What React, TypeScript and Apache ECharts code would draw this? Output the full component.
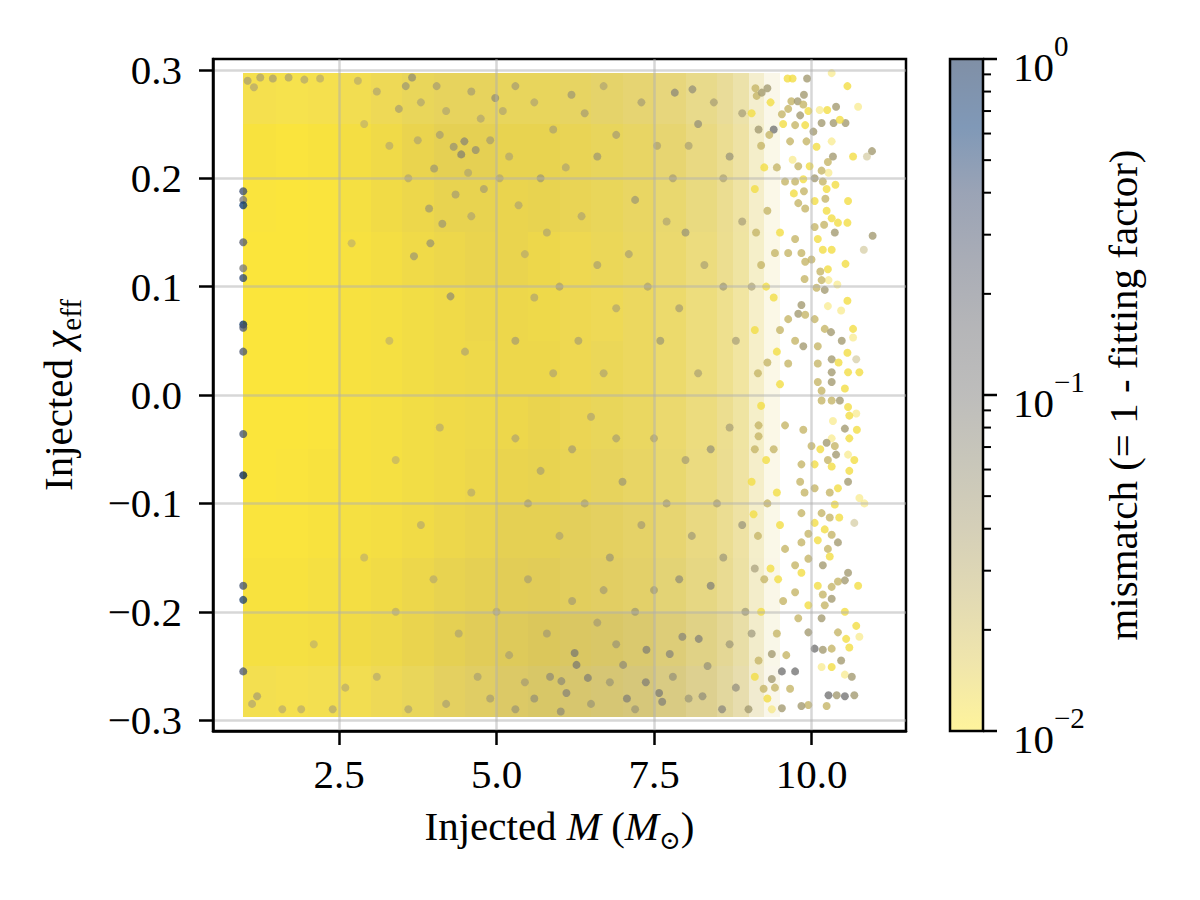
import React, { useEffect, useRef } from 'react';
import * as echarts from 'echarts';

// ---------- tick labels ----------
const xTicks = [2.5, 5.0, 7.5, 10.0];
const yTicks = [-0.3, -0.2, -0.1, 0.0, 0.1, 0.2, 0.3];
const cbarMajor = [0.01, 0.1, 1];
const cbarMinor = [0.02, 0.03, 0.04, 0.05, 0.06, 0.07, 0.08, 0.09, 0.2, 0.3, 0.4, 0.5, 0.6, 0.7, 0.8, 0.9];

// reversed cividis (low mismatch -> yellow, high -> navy)
const cmapStops = ['#FEE838', '#E1CC58', '#C5B568', '#ABA071', '#928E75', '#7C7B78', '#6B6C71', '#535A6D', '#36486C', '#00326F', '#00204D'];

// ---------- dense cloud, binned ----------
const cellXEdges = [0.98, 1.5, 2.0, 2.5, 3.0, 3.5, 4.0, 4.5, 5.0, 5.5, 6.0, 6.5, 7.0, 7.5, 8.0, 8.5, 8.75, 9.0, 9.25, 9.5];
const cellYEdges = [0.297, 0.25, 0.2, 0.15, 0.1, 0.05, 0.0, -0.05, -0.1, -0.15, -0.2, -0.25, -0.297]; // top -> bottom
const cellColumnFill = [1, 1, 1, 1, 1, 1, 1, 1, 1, 1, 0.97, 0.94, 0.9, 0.84, 0.75, 0.66, 0.55, 0.32, 0.14];
const cellRowFill = [0.94, 1, 1, 1, 1, 1, 1, 1, 1, 1, 1, 0.94];
// log10(mismatch), rows top -> bottom, columns left -> right
const cellLogMismatch = [
  [-1.93, -1.94, -1.93, -1.91, -1.88, -1.85, -1.83, -1.83, -1.84, -1.84, -1.83, -1.81, -1.8, -1.79, -1.78, -1.76, -1.76, -1.75, -1.75],
  [-1.96, -1.97, -1.96, -1.93, -1.9, -1.86, -1.83, -1.83, -1.85, -1.85, -1.85, -1.84, -1.83, -1.81, -1.8, -1.79, -1.79, -1.78, -1.78],
  [-1.97, -1.98, -1.97, -1.94, -1.91, -1.88, -1.85, -1.85, -1.86, -1.85, -1.85, -1.85, -1.84, -1.83, -1.81, -1.8, -1.8, -1.79, -1.79],
  [-1.98, -1.98, -1.97, -1.95, -1.93, -1.9, -1.88, -1.86, -1.86, -1.88, -1.88, -1.86, -1.85, -1.84, -1.83, -1.81, -1.81, -1.8, -1.8],
  [-1.98, -1.98, -1.97, -1.95, -1.94, -1.92, -1.9, -1.88, -1.88, -1.89, -1.88, -1.88, -1.86, -1.85, -1.84, -1.83, -1.83, -1.81, -1.81],
  [-1.98, -1.98, -1.97, -1.95, -1.94, -1.92, -1.9, -1.89, -1.88, -1.88, -1.88, -1.86, -1.86, -1.85, -1.84, -1.83, -1.83, -1.81, -1.81],
  [-1.98, -1.98, -1.97, -1.95, -1.94, -1.92, -1.9, -1.89, -1.88, -1.86, -1.86, -1.85, -1.85, -1.84, -1.83, -1.81, -1.81, -1.8, -1.8],
  [-1.98, -1.97, -1.96, -1.95, -1.94, -1.92, -1.9, -1.88, -1.86, -1.85, -1.85, -1.83, -1.83, -1.83, -1.82, -1.8, -1.8, -1.79, -1.79],
  [-1.97, -1.97, -1.96, -1.94, -1.93, -1.91, -1.88, -1.86, -1.83, -1.83, -1.81, -1.81, -1.81, -1.81, -1.8, -1.79, -1.79, -1.78, -1.78],
  [-1.96, -1.96, -1.94, -1.93, -1.91, -1.88, -1.85, -1.83, -1.81, -1.8, -1.8, -1.79, -1.79, -1.78, -1.78, -1.77, -1.77, -1.76, -1.76],
  [-1.94, -1.94, -1.93, -1.91, -1.89, -1.86, -1.83, -1.8, -1.78, -1.76, -1.74, -1.73, -1.72, -1.72, -1.72, -1.72, -1.72, -1.72, -1.72],
  [-1.92, -1.93, -1.92, -1.91, -1.88, -1.85, -1.81, -1.78, -1.75, -1.72, -1.7, -1.68, -1.67, -1.67, -1.67, -1.68, -1.68, -1.68, -1.68],
];

// ---------- individual points: [M, chi_eff, mismatch] ----------
const edgeColumnDots = [
  [0.98, 0.188, 0.4], [0.98, 0.18, 0.12], [0.98, 0.175, 0.6], [0.98, 0.141, 0.25], [0.98, 0.117, 0.12],
  [0.98, 0.108, 0.45], [0.98, 0.065, 0.8], [0.98, 0.062, 0.3], [0.98, 0.04, 0.3], [0.98, -0.036, 0.35],
  [0.98, -0.074, 1.0], [0.98, -0.176, 0.35], [0.98, -0.189, 0.5], [0.98, -0.255, 0.3],
];

const speckleDots = [
  [4.49, 0.234, 0.1], [4.44, 0.222, 0.12], [4.67, 0.226, 0.08], [4.32, 0.229, 0.07], [3.93, 0.172, 0.06],
  [4.14, 0.158, 0.06], [4.27, 0.091, 0.08], [3.66, 0.293, 0.08], [3.56, 0.285, 0.06], [4.98, 0.274, 0.08],
  [3.45, 0.264, 0.05], [4.01, 0.209, 0.06], [3.69, 0.128, 0.06], [3.95, 0.14, 0.07], [6.27, -0.249, 0.15],
  [6.45, -0.261, 0.12], [7.58, -0.275, 0.15], [7.63, -0.283, 0.12], [8.4, -0.176, 0.12], [8.58, -0.29, 0.1],
  [8.27, -0.278, 0.08], [6.02, -0.292, 0.08], [6.11, -0.275, 0.1], [7.37, -0.265, 0.12], [7.95, -0.223, 0.1],
  [8.21, -0.225, 0.12], [6.24, -0.238, 0.15], [7.38, -0.235, 0.12], [7.07, -0.28, 0.12], [7.01, -0.249, 0.08],
  [7.75, -0.239, 0.1], [6.03, -0.264, 0.08], [8.11, 0.282, 0.08], [7.83, 0.279, 0.1], [6.19, 0.277, 0.06],
  [1.05, 0.29, 0.05], [1.25, 0.293, 0.045], [1.45, 0.292, 0.05], [1.7, 0.293, 0.045], [1.95, 0.291, 0.04],
  [2.2, 0.292, 0.035], [1.15, 0.284, 0.04], [1.2, -0.278, 0.05], [1.12, -0.285, 0.04], [1.6, -0.29, 0.035],
  [5.6, -0.28, 0.07], [5.3, -0.29, 0.06], [5.85, -0.26, 0.08], [5.5, -0.1, 0.05], [6.2, -0.05, 0.05],
  [6.8, -0.15, 0.06], [6.0, 0.1, 0.05], [5.3, 0.05, 0.05], [7.2, 0.18, 0.06], [6.6, 0.22, 0.06],
  [5.7, 0.2, 0.06], [7.0, -0.08, 0.06], [7.6, 0.05, 0.06], [8.0, 0.15, 0.07], [8.4, -0.05, 0.07],
  [8.7, 0.22, 0.07], [8.9, -0.12, 0.07], [8.2, 0.25, 0.08], [7.9, -0.17, 0.08], [8.6, 0.1, 0.06],
  [3.8, 0.27, 0.04], [4.05, 0.285, 0.05], [4.2, 0.262, 0.04], [4.6, 0.28, 0.05], [4.75, 0.255, 0.04],
  [5.1, 0.262, 0.04], [5.3, 0.285, 0.05], [4.9, 0.235, 0.05], [5.2, 0.22, 0.04], [3.75, 0.235, 0.04],
  [4.1, 0.24, 0.05], [4.55, 0.205, 0.04], [4.8, 0.19, 0.05], [5.05, 0.2, 0.04], [4.35, 0.185, 0.05],
  [3.6, 0.2, 0.04], [4.6, 0.165, 0.04], [5.35, 0.175, 0.04], [3.3, 0.23, 0.035], [3.1, 0.28, 0.04],
  [2.8, 0.29, 0.035], [2.9, 0.25, 0.03], [5.6, 0.27, 0.04], [5.9, 0.245, 0.045], [6.1, 0.21, 0.04],
  [6.4, 0.26, 0.05], [6.7, 0.285, 0.04], [6.9, 0.24, 0.05], [6.35, 0.165, 0.04], [5.8, 0.15, 0.04],
  [6.6, 0.12, 0.045], [6.9, 0.08, 0.04], [5.6, 0.09, 0.04], [6.3, 0.05, 0.045], [5.9, 0.02, 0.04],
  [6.7, 0.02, 0.04], [5.45, 0.13, 0.035], [7.1, 0.13, 0.045], [7.3, 0.27, 0.05], [7.55, 0.23, 0.045],
  [7.8, 0.2, 0.05], [8.05, 0.23, 0.045], [8.45, 0.27, 0.05], [8.6, 0.2, 0.045], [8.9, 0.26, 0.05],
  [7.4, 0.1, 0.045], [7.9, 0.08, 0.05], [8.3, 0.12, 0.045], [8.8, 0.05, 0.05], [8.2, 0.02, 0.045],
  [7.7, 0.16, 0.04], [8.9, 0.16, 0.05], [9.05, 0.1, 0.045], [5.3, -0.04, 0.04], [5.7, -0.07, 0.045],
  [6.4, -0.1, 0.045], [6.0, -0.13, 0.04], [5.5, -0.17, 0.045], [6.2, -0.19, 0.05], [6.6, -0.21, 0.05],
  [5.8, -0.22, 0.05], [5.2, -0.24, 0.045], [5.45, -0.265, 0.05], [6.5, -0.285, 0.06], [6.8, -0.265, 0.06],
  [6.9, -0.23, 0.06], [6.7, -0.18, 0.05], [6.9, -0.04, 0.045], [6.5, -0.02, 0.04], [5.0, -0.2, 0.04],
  [4.7, -0.26, 0.045], [4.4, -0.22, 0.04], [4.9, -0.28, 0.05], [7.2, -0.2, 0.06], [7.5, -0.18, 0.055],
  [7.8, -0.26, 0.07], [8.05, -0.28, 0.06], [8.35, -0.25, 0.07], [8.7, -0.23, 0.06], [8.8, -0.27, 0.08],
  [7.3, -0.12, 0.05], [7.7, -0.1, 0.05], [8.1, -0.13, 0.055], [8.6, -0.15, 0.06], [8.95, -0.2, 0.06],
  [7.5, -0.04, 0.045], [8.0, -0.06, 0.05], [8.7, -0.03, 0.05], [7.2, -0.29, 0.06], [8.5, -0.1, 0.05],
  [9.1, -0.16, 0.05], [9.05, -0.22, 0.06], [2.1, -0.23, 0.03], [2.6, -0.27, 0.035], [3.1, -0.26, 0.035],
  [3.4, -0.2, 0.035], [2.9, -0.15, 0.03], [3.3, 0.05, 0.03], [2.7, 0.14, 0.03], [3.4, -0.06, 0.03],
  [3.8, -0.12, 0.035], [4.1, -0.03, 0.035], [4.5, 0.04, 0.04], [4.0, -0.17, 0.035], [4.6, -0.09, 0.035],
  [1.9, -0.29, 0.035], [2.4, -0.29, 0.04], [3.6, -0.29, 0.04], [4.2, -0.285, 0.045],
];

const fringeDots = [
  [9.62, 0.292, 0.012], [9.7, 0.292, 0.012], [9.93, 0.292, 0.045], [10.57, 0.285, 0.012], [9.3, 0.283, 0.045],
  [9.11, 0.283, 0.025], [9.13, 0.276, 0.025], [9.21, 0.279, 0.045], [9.88, 0.277, 0.045], [9.68, 0.271, 0.025],
  [9.78, 0.271, 0.045], [9.87, 0.268, 0.025], [10.39, 0.266, 0.045], [9.63, 0.264, 0.025], [10.25, 0.263, 0.012],
  [9.95, 0.262, 0.012], [9.53, 0.259, 0.025], [9.82, 0.258, 0.045], [10.16, 0.251, 0.045], [10.35, 0.251, 0.045],
  [10.54, 0.251, 0.045], [10.45, 0.254, 0.012], [9.74, 0.249, 0.025], [9.9, 0.249, 0.012], [9.4, 0.245, 0.12],
  [9.16, 0.245, 0.045], [10.03, 0.243, 0.045], [9.66, 0.234, 0.025], [9.92, 0.234, 0.025], [10.08, 0.229, 0.012],
  [10.96, 0.225, 0.045], [10.34, 0.22, 0.045], [10.66, 0.22, 0.012], [10.26, 0.215, 0.025], [9.79, 0.211, 0.025],
  [9.97, 0.211, 0.012], [10.16, 0.207, 0.025], [10.05, 0.2, 0.045], [10.18, 0.197, 0.025], [9.74, 0.197, 0.025],
  [9.87, 0.199, 0.012], [9.58, 0.197, 0.025], [10.24, 0.19, 0.012], [10.38, 0.194, 0.012], [9.88, 0.188, 0.025],
  [9.72, 0.186, 0.012], [10.22, 0.181, 0.025], [10.58, 0.179, 0.012], [9.79, 0.177, 0.025], [10.05, 0.179, 0.012],
  [9.9, 0.172, 0.025], [10.24, 0.17, 0.012], [10.32, 0.163, 0.012], [10.42, 0.159, 0.012], [10.57, 0.159, 0.012],
  [10.2, 0.157, 0.025], [10.05, 0.155, 0.025], [10.37, 0.15, 0.045], [10.97, 0.147, 0.045], [10.1, 0.144, 0.012],
  [9.74, 0.144, 0.025], [10.18, 0.134, 0.012], [10.32, 0.134, 0.012], [9.42, 0.131, 0.025], [9.63, 0.131, 0.025],
  [9.84, 0.131, 0.025], [9.9, 0.123, 0.025], [10.0, 0.125, 0.025], [10.54, 0.121, 0.012], [10.26, 0.116, 0.012],
  [10.14, 0.114, 0.025], [10.16, 0.106, 0.025], [9.89, 0.107, 0.025], [10.08, 0.099, 0.025], [10.21, 0.097, 0.045],
  [10.57, 0.087, 0.012], [9.84, 0.083, 0.045], [9.79, 0.075, 0.045], [9.9, 0.074, 0.025], [10.05, 0.07, 0.025],
  [9.63, 0.07, 0.025], [10.21, 0.061, 0.025], [10.31, 0.058, 0.045], [10.66, 0.061, 0.012], [10.48, 0.05, 0.045],
  [9.74, 0.05, 0.025], [9.87, 0.045, 0.045], [10.1, 0.045, 0.025], [10.57, 0.039, 0.012], [10.32, 0.033, 0.045],
  [10.43, 0.03, 0.012], [10.1, 0.029, 0.025], [9.63, 0.029, 0.025], [10.32, 0.021, 0.045], [10.58, 0.021, 0.012],
  [10.76, 0.021, 0.012], [10.32, 0.012, 0.045], [10.1, 0.012, 0.025], [10.53, 0.006, 0.012], [10.16, 0.004, 0.025],
  [10.16, -0.005, 0.025], [10.32, -0.005, 0.025], [10.45, -0.005, 0.045], [10.58, -0.011, 0.012], [10.6, -0.019, 0.012],
  [9.16, -0.028, 0.025], [9.58, -0.028, 0.025], [10.53, -0.031, 0.045], [10.72, -0.032, 0.012], [9.87, -0.032, 0.025],
  [10.6, -0.04, 0.012], [9.16, -0.038, 0.025], [10.24, -0.044, 0.045], [10.0, -0.047, 0.025], [10.14, -0.05, 0.012],
  [10.37, -0.047, 0.025], [10.39, -0.055, 0.045], [10.68, -0.06, 0.012], [10.26, -0.06, 0.025], [9.84, -0.064, 0.025],
  [10.05, -0.064, 0.012], [10.32, -0.066, 0.012], [10.6, -0.07, 0.012], [10.58, -0.08, 0.045], [9.82, -0.08, 0.025],
  [10.42, -0.086, 0.012], [10.05, -0.086, 0.025], [10.29, -0.09, 0.025], [9.89, -0.09, 0.025], [10.37, -0.101, 0.012],
  [10.16, -0.109, 0.025], [9.84, -0.109, 0.025], [10.29, -0.113, 0.025], [10.44, -0.113, 0.012], [10.05, -0.118, 0.012],
  [10.21, -0.124, 0.012], [10.32, -0.129, 0.025], [9.95, -0.128, 0.025], [10.1, -0.134, 0.012], [10.42, -0.136, 0.045],
  [9.84, -0.136, 0.025], [10.26, -0.142, 0.025], [9.58, -0.142, 0.025], [10.29, -0.149, 0.012], [9.95, -0.151, 0.025],
  [10.18, -0.157, 0.045], [9.74, -0.157, 0.025], [10.58, -0.164, 0.045], [9.84, -0.164, 0.012], [10.53, -0.171, 0.045],
  [10.42, -0.172, 0.025], [10.74, -0.176, 0.012], [10.32, -0.177, 0.025], [10.1, -0.176, 0.012], [10.18, -0.184, 0.025],
  [9.74, -0.182, 0.025], [10.32, -0.188, 0.045], [10.21, -0.194, 0.025], [9.95, -0.194, 0.012], [10.53, -0.2, 0.012],
  [10.16, -0.206, 0.045], [9.79, -0.206, 0.025], [10.71, -0.213, 0.012], [10.42, -0.219, 0.025], [9.95, -0.219, 0.045],
  [10.55, -0.225, 0.012], [10.6, -0.233, 0.012], [10.05, -0.234, 0.12], [10.18, -0.235, 0.045], [10.32, -0.234, 0.025],
  [9.37, -0.239, 0.045], [10.47, -0.245, 0.045], [9.16, -0.245, 0.025], [10.32, -0.251, 0.012], [9.53, -0.255, 0.12],
  [9.74, -0.255, 0.12], [10.64, -0.26, 0.045], [9.37, -0.262, 0.045], [9.66, -0.271, 0.025], [9.24, -0.271, 0.025],
  [10.27, -0.277, 0.12], [10.4, -0.277, 0.045], [10.53, -0.278, 0.12], [10.68, -0.277, 0.045], [10.24, -0.287, 0.025],
  [9.95, -0.286, 0.025], [9.84, -0.287, 0.045], [9.53, -0.289, 0.045], [9.0, -0.29, 0.045],
  [9.05, 0.26, 0.012], [9.2, 0.23, 0.025], [9.35, 0.27, 0.012], [9.45, 0.21, 0.025], [9.1, 0.19, 0.012],
  [9.3, 0.17, 0.025], [9.5, 0.15, 0.012], [9.2, 0.12, 0.025], [9.4, 0.09, 0.012], [9.1, 0.06, 0.012],
  [9.3, 0.03, 0.025], [9.5, 0.01, 0.012], [9.2, -0.01, 0.012], [9.4, -0.05, 0.025], [9.05, -0.08, 0.012],
  [9.3, -0.1, 0.025], [9.5, -0.12, 0.012], [9.15, -0.13, 0.025], [9.35, -0.16, 0.012], [9.55, -0.19, 0.025],
  [9.2, -0.2, 0.012], [9.45, -0.22, 0.025], [9.1, -0.26, 0.012], [9.6, -0.24, 0.025], [9.3, -0.28, 0.012],
  [9.55, 0.25, 0.012], [9.5, 0.06, 0.025], [9.25, 0.21, 0.012], [9.12, 0.15, 0.025], [9.28, 0.1, 0.012],
  [9.45, 0.04, 0.012], [9.1, -0.05, 0.025], [9.28, -0.06, 0.012], [9.45, -0.09, 0.012], [9.25, -0.17, 0.025],
  [9.42, -0.27, 0.025], [9.08, -0.11, 0.012], [9.33, 0.24, 0.025], [9.15, 0.02, 0.025], [9.47, -0.17, 0.012],
];

const faintDots = [
  [10.32, 0.297, 0.012], [10.74, 0.266, 0.012], [10.13, 0.263, 0.012], [10.32, 0.234, 0.012], [10.88, 0.22, 0.03],
  [9.7, 0.217, 0.012], [10.27, 0.205, 0.012], [10.83, 0.134, 0.03], [10.27, 0.106, 0.012], [10.41, 0.102, 0.012],
  [10.26, 0.082, 0.012], [10.47, 0.078, 0.012], [10.66, 0.053, 0.012], [10.71, 0.033, 0.03], [10.71, -0.017, 0.012],
  [10.34, -0.024, 0.012], [10.32, -0.04, 0.012], [10.58, -0.055, 0.012], [10.76, -0.095, 0.012], [10.84, -0.1, 0.012],
  [10.68, -0.118, 0.03], [10.76, -0.223, 0.012], [10.16, -0.251, 0.012], [10.53, -0.258, 0.012], [9.37, -0.29, 0.012],
];

const FONT = "'Liberation Serif', 'DejaVu Serif', serif";

function toRgba(hex: string, a: number) {
  const n = parseInt(hex.slice(1), 16);
  return `rgba(${(n >> 16) & 255},${(n >> 8) & 255},${n & 255},${a})`;
}

function buildCells() {
  const out: number[][] = [];
  for (let r = 0; r < cellLogMismatch.length; r++) {
    for (let c = 0; c < cellLogMismatch[r].length; c++) {
      const x0 = cellXEdges[c];
      const x1 = cellXEdges[c + 1];
      const yTop = cellYEdges[r];
      const yBot = cellYEdges[r + 1];
      out.push([(x0 + x1) / 2, (yTop + yBot) / 2, cellLogMismatch[r][c], x0, x1, yTop, yBot, cellColumnFill[c] * cellRowFill[r]]);
    }
  }
  return out;
}

const toPoint = (d: number[]) => [d[0], d[1], Math.log10(d[2])];

const fmtY = (v: number) => (v < -1e-9 ? '\u2212' : '') + Math.abs(v).toFixed(1);
const fmtExp = (v: number) => {
  const e = Math.round(v);
  return `{b|10}{s|${e === 0 ? '0' : '\u2212' + String(-e)}}`;
};

export default function App() {
  const ref = useRef<HTMLDivElement>(null);

  useEffect(() => {
    if (!ref.current) return;
    const chart = echarts.init(ref.current, undefined, { renderer: 'svg' });

    const tickStyle = { color: '#000', width: 2.5 };
    const labelBase = { color: '#000', fontSize: 41, fontFamily: FONT };

    const gradient = new echarts.graphic.LinearGradient(
      0, 1, 0, 0,
      cmapStops.map((c, i) => ({ offset: i / (cmapStops.length - 1), color: toRgba(c, 0.5) }))
    );

    // colourbar ticks: [x, log10(value), isMajor]
    const cbarTickData = [
      ...cbarMajor.map((v) => [1, Math.log10(v), 1]),
      ...cbarMinor.map((v) => [1, Math.log10(v), 0]),
    ];

    const option: any = {
      animation: false,
      backgroundColor: '#fff',
      grid: [
        { left: 213, top: 59, width: 693, height: 672, show: true, borderColor: '#000', borderWidth: 2.5, containLabel: false },
        { left: 950, top: 59, width: 33, height: 672, show: false, containLabel: false },
      ],
      visualMap: {
        type: 'continuous',
        show: false,
        min: -2,
        max: 0,
        dimension: 2,
        seriesIndex: [0, 1, 2, 3, 4],
        inRange: { color: cmapStops },
      },
      xAxis: [
        {
          type: 'value',
          gridIndex: 0,
          min: 0.5,
          max: 11.5,
          z: 5,
          axisLine: { show: true, onZero: false, lineStyle: tickStyle },
          axisTick: { show: true, inside: false, length: 14, lineStyle: tickStyle, customValues: xTicks },
          axisLabel: { ...labelBase, margin: 22, customValues: xTicks, formatter: (v: number) => v.toFixed(1) },
          splitLine: { show: true, lineStyle: { color: 'rgba(176,176,176,0.5)', width: 2.5 } },
          name: '{r|Injected }{i|M}{r| (}{i|M}{s|\u2299}{r|)}',
          nameLocation: 'middle',
          nameGap: 74,
          nameTextStyle: {
            rich: {
              r: { fontSize: 41, fontFamily: FONT, color: '#000', lineHeight: 48, verticalAlign: 'top' },
              i: { fontSize: 41, fontFamily: FONT, fontStyle: 'italic', color: '#000', lineHeight: 48, verticalAlign: 'top' },
              s: { fontSize: 26, fontFamily: "'DejaVu Serif', serif", color: '#000', lineHeight: 28, verticalAlign: 'bottom' },
            },
          },
        },
        {
          type: 'value', gridIndex: 1, min: 0, max: 1, show: false,
          axisLine: { show: false }, axisTick: { show: false }, axisLabel: { show: false }, splitLine: { show: false },
        },
      ],
      yAxis: [
        {
          type: 'value',
          gridIndex: 0,
          min: -0.31,
          max: 0.31,
          z: 5,
          axisLine: { show: true, onZero: false, lineStyle: tickStyle },
          axisTick: { show: true, inside: false, length: 14, lineStyle: tickStyle, customValues: yTicks },
          axisLabel: { ...labelBase, margin: 31, customValues: yTicks, formatter: fmtY },
          splitLine: { show: true, lineStyle: { color: 'rgba(176,176,176,0.5)', width: 2.5 } },
          name: '{r|Injected }{c|\u03c7}{s|eff}',
          nameLocation: 'middle',
          nameRotate: 90,
          nameGap: 128,
          nameTextStyle: {
            rich: {
              r: { fontSize: 41, fontFamily: FONT, color: '#000', lineHeight: 48, verticalAlign: 'top' },
              c: { fontSize: 41, fontFamily: FONT, fontStyle: 'italic', color: '#000', lineHeight: 48, verticalAlign: 'top' },
              s: { fontSize: 29, fontFamily: FONT, color: '#000', lineHeight: 30, verticalAlign: 'bottom' },
            },
          },
        },
        {
          type: 'value',
          gridIndex: 1,
          min: -2,
          max: 0,
          position: 'right',
          axisLine: { show: false },
          splitLine: { show: false },
          axisTick: { show: false },
          axisLabel: { show: false },
          name: 'mismatch (= 1 - fitting factor)',
          nameLocation: 'middle',
          nameRotate: 90,
          nameGap: 119,
          nameTextStyle: { fontSize: 41, fontFamily: FONT, color: '#000' },
        },
      ],
      graphic: [
        {
          type: 'rect',
          z: 10,
          shape: { x: 950, y: 59, width: 33, height: 672 },
          style: { fill: gradient, stroke: '#000', lineWidth: 2.5 },
        },
      ],
      series: [
        {
          type: 'custom',
          xAxisIndex: 0,
          yAxisIndex: 0,
          z: 1,
          clip: true,
          encode: { x: 0, y: 1 },
          data: buildCells(),
          renderItem: (_params: any, api: any) => {
            const p0 = api.coord([api.value(3), api.value(5)]);
            const p1 = api.coord([api.value(4), api.value(6)]);
            const l = Math.round(p0[0]);
            const r = Math.round(p1[0]);
            const t = Math.round(p0[1]);
            const b = Math.round(p1[1]);
            return {
              type: 'rect',
              shape: { x: l, y: t, width: r - l, height: b - t },
              style: { fill: api.visual('color'), opacity: api.value(7) },
            };
          },
        },
        {
          type: 'scatter',
          xAxisIndex: 0,
          yAxisIndex: 0,
          z: 2,
          symbolSize: 8,
          itemStyle: { opacity: 0.65 },
          data: speckleDots.map(toPoint),
        },
        {
          type: 'scatter',
          xAxisIndex: 0,
          yAxisIndex: 0,
          z: 2,
          symbolSize: 8,
          itemStyle: { opacity: 0.45 },
          data: faintDots.map(toPoint),
        },
        {
          type: 'scatter',
          xAxisIndex: 0,
          yAxisIndex: 0,
          z: 3,
          symbolSize: 8,
          itemStyle: { opacity: 0.8 },
          data: fringeDots.map(toPoint),
        },
        {
          type: 'scatter',
          xAxisIndex: 0,
          yAxisIndex: 0,
          z: 4,
          symbolSize: 8,
          itemStyle: { opacity: 0.75 },
          data: edgeColumnDots.map(toPoint),
        },
        {
          type: 'custom',
          xAxisIndex: 1,
          yAxisIndex: 1,
          z: 12,
          clip: false,
          encode: { x: 0, y: 1 },
          data: cbarTickData,
          renderItem: (_params: any, api: any) => {
            const p = api.coord([1, api.value(1)]);
            const major = api.value(2) === 1;
            const tick = {
              type: 'line',
              shape: { x1: p[0], y1: p[1], x2: p[0] + (major ? 14 : 8), y2: p[1] },
              style: { stroke: '#000', lineWidth: major ? 2.5 : 2 },
            };
            if (!major) return tick;
            return {
              type: 'group',
              children: [
                tick,
                {
                  type: 'text',
                  x: p[0] + 30,
                  y: p[1],
                  style: {
                    text: fmtExp(api.value(1)),
                    align: 'left',
                    verticalAlign: 'middle',
                    fill: '#000',
                    rich: {
                      b: { fontSize: 41, fontFamily: FONT, fill: '#000', lineHeight: 56, verticalAlign: 'bottom' },
                      s: { fontSize: 29, fontFamily: FONT, fill: '#000', lineHeight: 30, verticalAlign: 'top' },
                    },
                  },
                },
              ],
            };
          },
        },
      ],
    };

    chart.setOption(option);
    return () => chart.dispose();
  }, []);

  return <div ref={ref} style={{ position: 'absolute', left: 0, top: 0, width: 1200, height: 900 }} />;
}
